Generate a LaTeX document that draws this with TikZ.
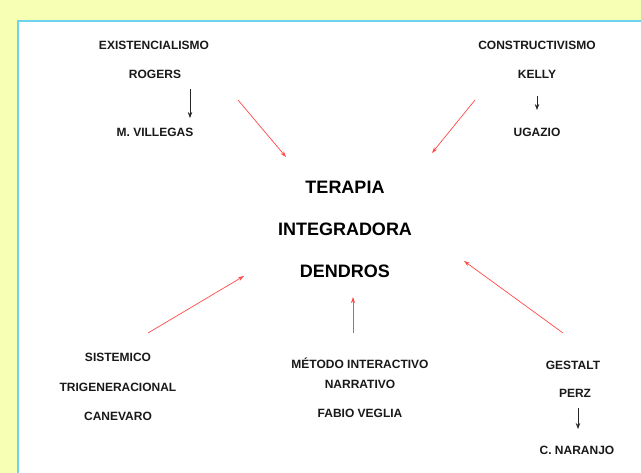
\documentclass[tikz,border=0pt]{standalone}
\usepackage{fontspec}
\setmainfont{Liberation Sans}
\usetikzlibrary{arrows.meta}
\definecolor{bgyellow}{HTML}{F7FFB4}
\definecolor{frameblue}{HTML}{6FD3EE}
\definecolor{arrred}{HTML}{FF4A4A}
\begin{document}
\begin{tikzpicture}[x=1pt,y=-1pt,
  lbl/.style={font=\bfseries\fontsize{12}{14}\selectfont, inner sep=0pt, text=black!90},
  big/.style={font=\bfseries\fontsize{18}{20}\selectfont, inner sep=0pt},
  redarr/.style={draw=arrred, line width=0.7pt, -{Stealth[length=6pt,width=4pt]}},
  blkarr/.style={draw=black!85, line width=0.7pt, -{Stealth[length=6pt,width=4.5pt]}}]
\useasboundingbox (0,0) rectangle (641,473);
\fill[bgyellow] (0,0) rectangle (641,473);
\filldraw[fill=white, draw=frameblue, line width=1.2pt] (18,21) rectangle (645,480);
% top-left
\node[lbl] (exi) at (154,45) {EXISTENCIALISMO};
\node[lbl] (rog) at (155,74) {ROGERS};
\node[lbl] (vil) at (155,132) {M. VILLEGAS};
\coordinate (a1s) at (190,89);
\coordinate (a1e) at (190,118);
\draw[blkarr] (a1s) -- (a1e);
% top-right
\node[lbl] (con) at (537,45) {CONSTRUCTIVISMO};
\node[lbl] (kel) at (537,74) {KELLY};
\node[lbl] (uga) at (537,132) {UGAZIO};
\coordinate (a2s) at (537,96);
\coordinate (a2e) at (537,110);
\draw[blkarr] (a2s) -- (a2e);
% center
\node[big] (ter) at (345,187) {TERAPIA};
\node[big] (int) at (345,229) {INTEGRADORA};
\node[big] (den) at (345,271) {DENDROS};
% bottom-left
\node[lbl] (sis) at (118,357) {SISTEMICO};
\node[lbl] (tri) at (118,387) {TRIGENERACIONAL};
\node[lbl] (can) at (118,416) {CANEVARO};
% bottom-center
\node[lbl] (met) at (360,363) {MÉTODO INTERACTIVO};
\node[lbl] (nar) at (360,384) {NARRATIVO};
\node[lbl] (fab) at (360,413) {FABIO VEGLIA};
% bottom-right
\node[lbl] (ges) at (573,365) {GESTALT};
\node[lbl] (per) at (575,393) {PERZ};
\node[lbl] (nara) at (577,450) {C. NARANJO};
\coordinate (a3s) at (578,408);
\coordinate (a3e) at (578,429);
\draw[blkarr] (a3s) -- (a3e);
% red arrows
\coordinate (r1s) at (238,100); \coordinate (r1e) at (286,157);
\coordinate (r2s) at (475,100); \coordinate (r2e) at (432,153);
\coordinate (r3s) at (148,333); \coordinate (r3e) at (244,276);
\coordinate (r4s) at (353,333); \coordinate (r4e) at (353,297);
\coordinate (r5s) at (563,333); \coordinate (r5e) at (464,261);
\draw[redarr] (r1s) -- (r1e);
\draw[redarr] (r2s) -- (r2e);
\draw[redarr] (r3s) -- (r3e);
\draw[redarr] (r4s) -- (r4e);
\draw[redarr] (r5s) -- (r5e);
\end{tikzpicture}
\end{document}
